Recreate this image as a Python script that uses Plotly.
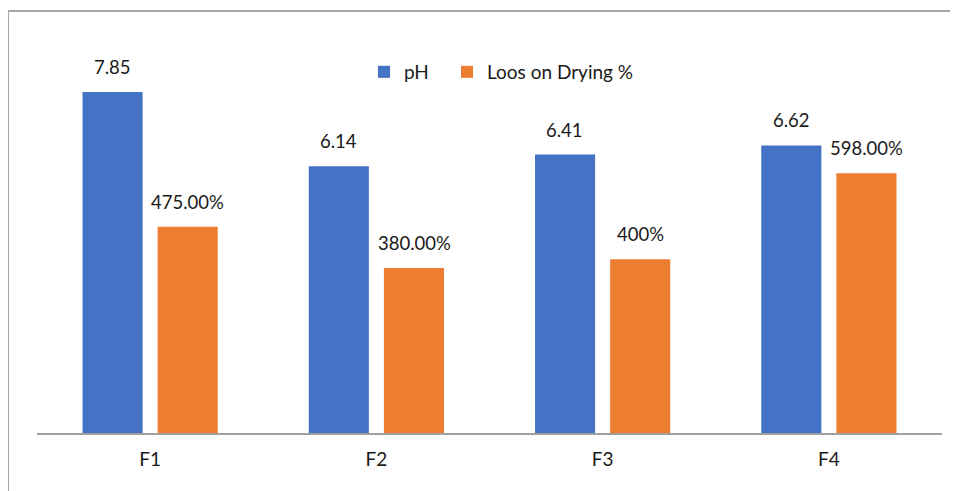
import plotly.graph_objects as go

categories = ["F1", "F2", "F3", "F4"]
ph_values = [7.85, 6.14, 6.41, 6.62]
lod_values = [4.75, 3.80, 4.00, 5.98]
ph_labels = ["7.85", "6.14", "6.41", "6.62"]
lod_labels = ["475.00%", "380.00%", "400%", "598.00%"]

FONT = "Lato, Carlito, Calibri, sans-serif"
TXT = "#1a1a1a"

fig = go.Figure()
fig.add_trace(go.Bar(name="pH", x=categories, y=ph_values, legend="legend",
                     marker=dict(color="#4472C4", line=dict(width=0))))
fig.add_trace(go.Bar(name="Loos on Drying %", x=categories, y=lod_values, legend="legend2",
                     marker=dict(color="#ED7D31", line=dict(width=0))))

annotations = []
for cat, v, lab in zip(categories, ph_values, ph_labels):
    annotations.append(dict(x=cat, y=v, text=lab, showarrow=False, xref="x", yref="y",
                            xshift=-37.7, yshift=12, yanchor="bottom",
                            font=dict(family=FONT, size=18.5, color=TXT)))
for cat, v, lab in zip(categories, lod_values, lod_labels):
    annotations.append(dict(x=cat, y=v, text=lab, showarrow=False, xref="x", yref="y",
                            xshift=37.7, yshift=12, yanchor="bottom",
                            font=dict(family=FONT, size=18.5, color=TXT)))

# page has an 8px body margin; figure offset accordingly
OFF = 8
W, H = 958 - OFF, 491 - OFF
L, R, T, B = 29, 16, 32, 58
pw, ph = W - L - R, H - T - B

def px_x(p):
    return (p - OFF - L) / pw

def px_y(p):
    return (H - B - (p - OFF)) / ph

shapes = [
    dict(type="line", xref="paper", yref="paper", x0=px_x(8), x1=px_x(8),
         y0=px_y(11), y1=px_y(520), line=dict(color="#a6a6a6", width=2)),
    dict(type="line", xref="paper", yref="paper", x0=px_x(8), x1=px_x(990),
         y0=px_y(11), y1=px_y(11), line=dict(color="#a6a6a6", width=2)),
]

legend_style = dict(orientation="h", xanchor="left", y=px_y(72), yanchor="middle",
                    font=dict(family=FONT, size=19, color=TXT), bgcolor="rgba(0,0,0,0)",
                    itemwidth=30)

fig.update_layout(
    width=W, height=H,
    margin=dict(l=L, r=R, t=T, b=B),
    paper_bgcolor="white", plot_bgcolor="white",
    barmode="group", bargap=0.336, bargroupgap=0.2,
    showlegend=True,
    legend=dict(x=px_x(364), **legend_style),
    legend2=dict(x=px_x(447), **legend_style),
    xaxis=dict(showline=True, linecolor="#a0a0a0", linewidth=1.5, ticks="",
               tickfont=dict(family=FONT, size=19, color=TXT), showgrid=False,
               ticklabelstandoff=8),
    yaxis=dict(range=[0, ph / 43.44], visible=False, showgrid=False, zeroline=False),
    annotations=annotations,
    shapes=shapes,
    font=dict(family=FONT, color=TXT),
)

fig.write_html("out.html", config={"displayModeBar": False})
